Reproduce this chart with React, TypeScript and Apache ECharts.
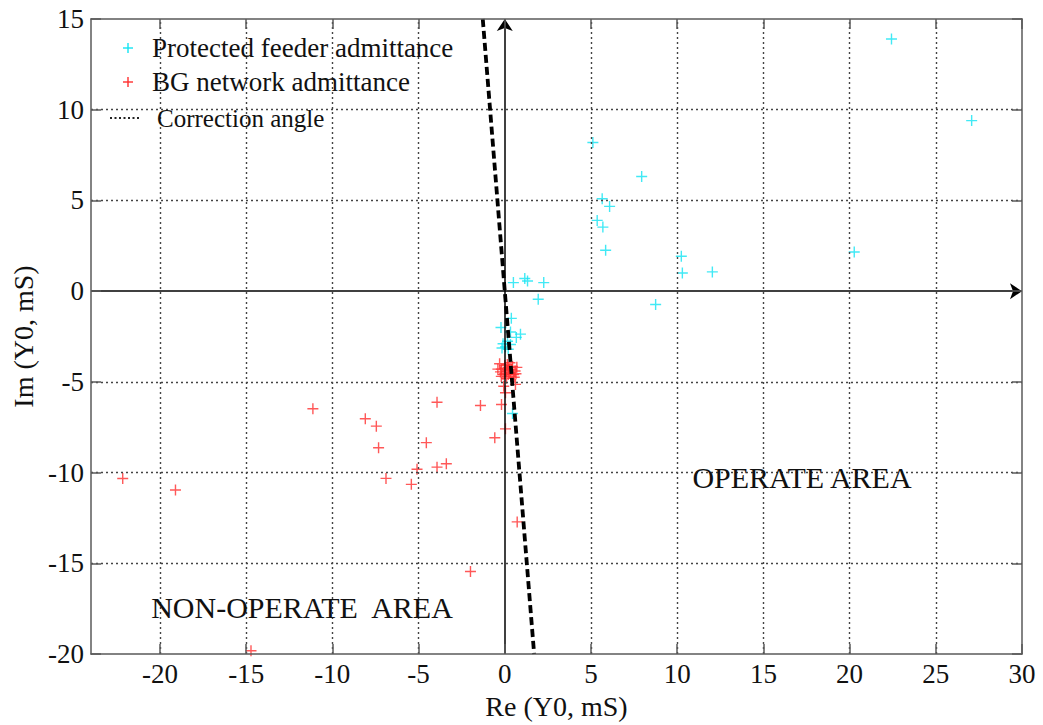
import React, { useEffect, useRef } from "react";
import * as echarts from "echarts";

// ---- data ----
const FEEDER_RE = [22.43, 27.08, 5.11, 7.94, 5.65, 6.08, 5.36, 5.69, 5.85, 10.24, 10.3, 12.04, 20.27, 8.75, 2.26, 1.94, 1.16, 1.32, 0.5, 0.38, -0.22, 0.33, 0.91, 0.67, 0.16, -0.16, 0.04, 0.33, 0.2, -0.1, 0.45];
const FEEDER_IM = [13.9, 9.4, 8.19, 6.32, 5.09, 4.67, 3.9, 3.53, 2.25, 1.92, 1.0, 1.06, 2.16, -0.74, 0.47, -0.45, 0.7, 0.56, 0.47, -1.5, -2.0, -2.25, -2.37, -2.55, -2.76, -3.13, -3.07, -2.94, -3.2, -2.9, -6.74];

const BG_RE = [-22.16, -19.1, -14.72, -11.13, -8.09, -7.45, -7.32, -6.89, -5.42, -5.09, -4.55, -3.93, -3.93, -3.39, -1.41, -0.58, -1.99, -0.19, 0.04, 0.72, 0.62, -0.06, 0.04, -0.4, -0.3, -0.2, -0.1, 0.0, 0.1, 0.2, 0.3, 0.4, 0.5, 0.6, 0.1, -0.2, 0.3, 0.7, 0.2, -0.25, 0.05, 0.25, 0.45, 0.55, 0.35, 0.0, 0.15, 0.65];
const BG_IM = [-10.33, -10.96, -19.82, -6.48, -7.03, -7.44, -8.63, -10.32, -10.65, -9.82, -8.35, -6.12, -9.7, -9.51, -6.3, -8.08, -15.45, -6.25, -7.59, -12.72, -5.14, -5.24, -5.6, -4.3, -4.0, -4.3, -4.6, -4.1, -4.4, -4.2, -4.5, -4.3, -4.6, -4.4, -4.8, -4.7, -3.95, -4.2, -4.6, -4.45, -4.25, -4.35, -4.15, -4.75, -4.7, -4.55, -4.05, -4.55];

const CORR_RE = [-1.277, 1.703];
const CORR_IM = [15, -20];

const X_TICKS = [-20, -15, -10, -5, 0, 5, 10, 15, 20, 25, 30];
const GRID_X = [-20, -15, -10, -5, 5, 10, 15, 20, 25];
const GRID_Y = [-15, -10, -5, 5, 10];

const X_MIN = -24;
const X_MAX = 30;
const Y_MIN = -20;
const Y_MAX = 15;

const CYAN = "#12E4F2";
const RED = "#FF2E2E";
const FONT = "Liberation Serif";
const FRAME = "#5a5a5a";
const PLUS = "path://M5,0L5,10M0,5L10,5";

export default function App() {
  const ref = useRef<HTMLDivElement>(null);

  useEffect(() => {
    const chart = echarts.init(ref.current!, null, { renderer: "svg" });

    const axisCommon = {
      type: "value" as const,
      splitLine: { show: false },
      axisLine: { show: true, onZero: false, lineStyle: { color: FRAME, width: 1.5 } },
    };

    const tickText = { fontFamily: FONT, fontSize: 27, color: "#111", fontWeight: "normal" as const };

    const option: any = {
      animation: false,
      backgroundColor: "#ffffff",
      textStyle: { fontFamily: FONT },
      grid: { left: 91, right: 21, top: 19, bottom: 70, containLabel: false },
      xAxis: [
        {
          ...axisCommon,
          min: X_MIN,
          max: X_MAX,
          position: "bottom",
          z: 6,
          axisTick: { show: true, inside: true, length: 10, customValues: X_TICKS, lineStyle: { color: FRAME, width: 1.5 } },
          axisLabel: {
            customValues: X_TICKS,
            ...tickText,
            margin: 6,
            formatter: (v: number) => `{t|${v}}`,
            rich: { t: { ...tickText } },
          },
          name: "Re (Y0, mS)",
          nameLocation: "middle",
          nameGap: 38,
          nameTextStyle: { fontFamily: FONT, fontSize: 28, color: "#111" },
        },
        {
          ...axisCommon,
          min: X_MIN,
          max: X_MAX,
          position: "top",
          z: 6,
          axisTick: { show: true, inside: true, length: 10, customValues: X_TICKS, lineStyle: { color: FRAME, width: 1.5 } },
          axisLabel: { show: false },
        },
      ],
      yAxis: [
        {
          ...axisCommon,
          min: Y_MIN,
          max: Y_MAX,
          interval: 5,
          position: "left",
          z: 6,
          axisTick: { show: true, inside: true, length: 10, lineStyle: { color: FRAME, width: 1.5 } },
          axisLabel: {
            ...tickText,
            margin: 7,
            formatter: (v: number) => `{t|${v}}`,
            rich: { t: { ...tickText } },
          },
          name: "Im (Y0, mS)",
          nameLocation: "middle",
          nameGap: 50,
          nameTextStyle: { fontFamily: FONT, fontSize: 28, color: "#111" },
        },
        {
          ...axisCommon,
          min: Y_MIN,
          max: Y_MAX,
          interval: 5,
          position: "right",
          z: 6,
          axisTick: { show: true, inside: true, length: 10, lineStyle: { color: FRAME, width: 1.5 } },
          axisLabel: { show: false },
        },
      ],
      series: [
        {
          name: "grid",
          type: "scatter",
          data: [],
          z: 1,
          silent: true,
          markLine: {
            silent: true,
            symbol: "none",
            label: { show: false },
            lineStyle: { color: "#444", width: 1.4, type: [2, 3] },
            emphasis: { disabled: true },
            data: [
              ...GRID_X.map((v) => ({ xAxis: v })),
              ...GRID_Y.map((v) => ({ yAxis: v })),
            ],
          },
        },
        {
          name: "axes",
          type: "scatter",
          data: [],
          z: 2,
          silent: true,
          markLine: {
            silent: true,
            symbol: ["none", "arrow"],
            symbolSize: 12,
            label: { show: false },
            lineStyle: { color: "#000", width: 1.5, type: "solid" },
            emphasis: { disabled: true },
            data: [
              [{ coord: [X_MIN, 0] }, { coord: [X_MAX, 0] }],
              [{ coord: [0, Y_MIN] }, { coord: [0, Y_MAX] }],
            ],
          },
        },
        {
          name: "Protected feeder admittance",
          type: "scatter",
          z: 4,
          symbol: PLUS,
          symbolSize: 11,
          itemStyle: { color: "rgba(0,0,0,0)", borderColor: CYAN, borderWidth: 1.4 },
          emphasis: { disabled: true },
          data: FEEDER_RE.map((x, i) => [x, FEEDER_IM[i]]),
        },
        {
          name: "BG network admittance",
          type: "scatter",
          z: 4,
          symbol: PLUS,
          symbolSize: 11,
          itemStyle: { color: "rgba(0,0,0,0)", borderColor: RED, borderWidth: 1.4 },
          emphasis: { disabled: true },
          data: BG_RE.map((x, i) => [x, BG_IM[i]]),
        },
        {
          name: "Correction angle",
          type: "line",
          z: 5,
          symbol: "none",
          lineStyle: { color: "#000", width: 3.8, type: [8, 4] },
          emphasis: { disabled: true },
          data: CORR_RE.map((x, i) => [x, CORR_IM[i]]),
        },
      ],
      graphic: [
        { type: "rect", z: 5, silent: true, shape: { x: 92.5, y: 20, width: 369, height: 115 }, style: { fill: "#ffffff" } },
        { type: "line", z: 7, shape: { x1: 123, y1: 48, x2: 133, y2: 48 }, style: { stroke: CYAN, lineWidth: 1.4 } },
        { type: "line", z: 7, shape: { x1: 128, y1: 43, x2: 128, y2: 53 }, style: { stroke: CYAN, lineWidth: 1.4 } },
        { type: "line", z: 7, shape: { x1: 123, y1: 82, x2: 133, y2: 82 }, style: { stroke: RED, lineWidth: 1.4 } },
        { type: "line", z: 7, shape: { x1: 128, y1: 77, x2: 128, y2: 87 }, style: { stroke: RED, lineWidth: 1.4 } },
        { type: "line", z: 7, shape: { x1: 110, y1: 118, x2: 139, y2: 118 }, style: { stroke: "#222", lineWidth: 2, lineDash: [2, 2.5] } },
        { type: "text", z: 7, style: { text: "Protected feeder admittance", x: 152, y: 48, font: `27px ${FONT}`, fill: "#111", textAlign: "left", textVerticalAlign: "middle" } },
        { type: "text", z: 7, style: { text: "BG network admittance", x: 152, y: 82, font: `27px ${FONT}`, fill: "#111", textAlign: "left", textVerticalAlign: "middle" } },
        { type: "text", z: 7, style: { text: "Correction angle", x: 157, y: 118, font: `25px ${FONT}`, fill: "#111", textAlign: "left", textVerticalAlign: "middle" } },
        { type: "text", z: 7, style: { text: "OPERATE AREA", x: 802, y: 477, font: `30px ${FONT}`, fill: "#111", textAlign: "center", textVerticalAlign: "middle" } },
        { type: "text", z: 7, style: { text: "NON-OPERATE  AREA", x: 302, y: 607, font: `30px ${FONT}`, fill: "#111", textAlign: "center", textVerticalAlign: "middle" } },
      ],
    };

    chart.setOption(option);
    return () => chart.dispose();
  }, []);

  return <div ref={ref} style={{ position: "absolute", left: 0, top: 0, width: 1043, height: 725 }} />;
}
